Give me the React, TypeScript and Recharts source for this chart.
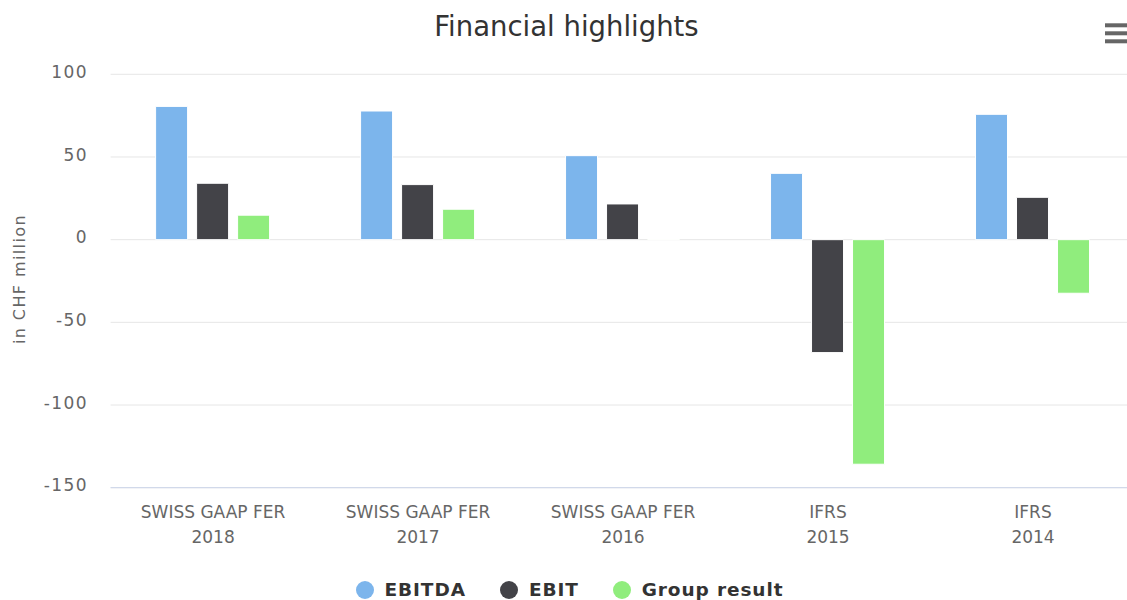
import React from 'react';
import { BarChart, Bar, XAxis, YAxis, CartesianGrid, Legend, Label } from 'recharts';

const standards = ['SWISS GAAP FER', 'SWISS GAAP FER', 'SWISS GAAP FER', 'IFRS', 'IFRS'];
const years = ['2018', '2017', '2016', '2015', '2014'];
const ebitda = [80.6, 77.8, 50.8, 40.1, 75.8];
const ebit = [34.1, 33.3, 21.6, -68.3, 25.6];
const groupResult = [14.8, 18.4, 0.2, -135.8, -32.4];
const yTicks = [-150, -100, -50, 0, 50, 100];
const seriesKeys = ['ebitda', 'ebit', 'group'];
const seriesNames = ['EBITDA', 'EBIT', 'Group result'];
const seriesColors = ['#7cb5ec', '#434348', '#90ed7d'];

const data = years.map((y, i) => ({
  key: `${standards[i]} ${y}`,
  standard: standards[i],
  year: y,
  ebitda: ebitda[i],
  ebit: ebit[i],
  group: groupResult[i],
}));

const FONT = '"DejaVu Sans", sans-serif';

function XTick(props: any) {
  const { x, y, payload } = props;
  const d = data.find((r) => r.key === payload.value) || data[0];
  return (
    <g>
      <text x={x} y={y + 28.6} textAnchor="middle" fill="#666666" fontSize={17} fontFamily={FONT}>
        {d.standard}
      </text>
      <text x={x} y={y + 53} textAnchor="middle" fill="#666666" fontSize={17} fontFamily={FONT}>
        {d.year}
      </text>
    </g>
  );
}

function YTick(props: any) {
  const { x, y, payload } = props;
  return (
    <text x={x} y={y + 3.7} textAnchor="end" fill="#666666" fontSize={17} letterSpacing={1.4} fontFamily={FONT}>
      {String(payload.value)}
    </text>
  );
}

function LegendContent() {
  return (
    <div
      style={{
        display: 'flex',
        justifyContent: 'center',
        alignItems: 'center',
        height: 30,
        paddingLeft: 12,
        boxSizing: 'border-box',
      }}
    >
      {seriesNames.map((n, i) => (
        <div key={n} style={{ display: 'flex', alignItems: 'center', marginRight: i < seriesNames.length - 1 ? 34 : 0 }}>
          <span
            style={{
              display: 'inline-block',
              width: 18,
              height: 18,
              borderRadius: 9,
              background: seriesColors[i],
              marginRight: 11,
            }}
          />
          <span
            style={{
              fontFamily: FONT,
              fontWeight: 'bold',
              fontSize: 18.5,
              letterSpacing: 0.9,
              color: '#333333',
              lineHeight: '20px',
            }}
          >
            {n}
          </span>
        </div>
      ))}
    </div>
  );
}

export default function App() {
  return (
    <div style={{ position: 'absolute', left: 0, top: 0, width: 1127, height: 600, background: '#fff' }}>
      <BarChart
        width={1127}
        height={600}
        data={data}
        margin={{ top: 74.3, right: -8.5, bottom: 22.3, left: 0 }}
        barSize={32}
        barGap={9}
      >
        <CartesianGrid vertical={false} stroke="#e6e6e6" strokeWidth={1} />
        <XAxis
          dataKey="key"
          height={60}
          axisLine={{ stroke: '#ccd6eb', strokeWidth: 1 }}
          tickLine={false}
          tickSize={0}
          tick={<XTick />}
          interval={0}
        />
        <YAxis
          width={110.6}
          domain={[-150, 100]}
          ticks={yTicks}
          axisLine={false}
          tickLine={false}
          tickSize={0}
          tickMargin={22.6}
          tick={<YTick />}
        >
          <Label
            content={(p: any) => {
              const vb = p.viewBox || { x: 0, y: 74.3, width: 110.6, height: 413.4 };
              const cy = vb.y + vb.height / 2 - 2;
              return (
                <text
                  x={25}
                  y={cy}
                  transform={`rotate(-90, 25, ${cy})`}
                  textAnchor="middle"
                  fill="#666666"
                  fontSize={16}
                  letterSpacing={1.4}
                  fontFamily={FONT}
                >
                  in CHF million
                </text>
              );
            }}
          />
        </YAxis>
        <Legend
          verticalAlign="bottom"
          content={<LegendContent />}
          wrapperStyle={{ position: 'absolute', top: 575, left: 0, width: 1127, height: 30 }}
        />
        {seriesKeys.map((k, i) => (
          <Bar
            key={k}
            dataKey={k}
            name={seriesNames[i]}
            fill={seriesColors[i]}
            stroke="#ffffff"
            strokeWidth={1}
            isAnimationActive={false}
          />
        ))}
      </BarChart>
      <svg width={1127} height={60} style={{ position: 'absolute', left: 0, top: 0, pointerEvents: 'none' }}>
        <text x={566.5} y={36.3} textAnchor="middle" fill="#333333" fontSize={27.5} fontFamily={FONT}>
          Financial highlights
        </text>
        <rect x={1105} y={23.3} width={22} height={4} fill="#666666" />
        <rect x={1105} y={31.3} width={22} height={4} fill="#666666" />
        <rect x={1105} y={39.3} width={22} height={4} fill="#666666" />
      </svg>
    </div>
  );
}
